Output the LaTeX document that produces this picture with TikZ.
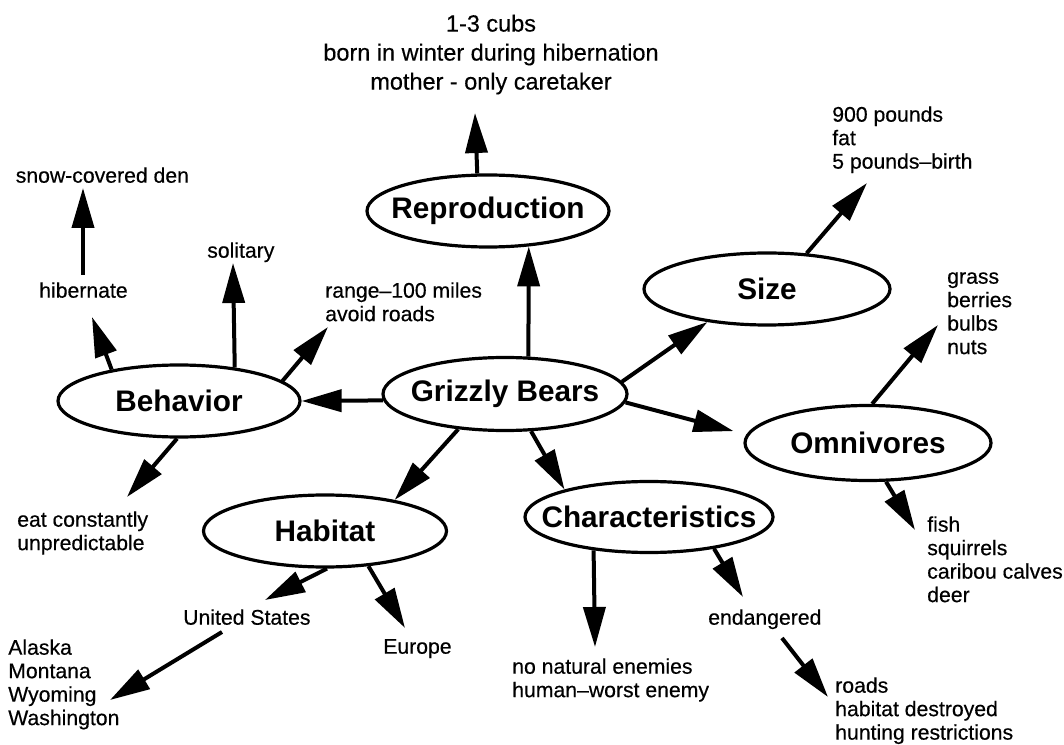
\documentclass[tikz,border=0pt]{standalone}
\usepackage{fontspec}
\setmainfont{Liberation Sans}
\newfontfamily\labelfont{Liberation Sans}[FakeBold=0.4]
\usetikzlibrary{arrows.meta,shapes.geometric,calc}
\begin{document}
\begin{tikzpicture}[x=0.75pt,y=-0.75pt,
  topic/.style={ellipse, draw, line width=2.4pt, inner sep=0pt,
    font=\fontsize{22.3}{26}\selectfont\bfseries},
  txt/.style={anchor=north west, align=left, inner sep=0pt,
    font=\labelfont\fontsize{15.9}{17.6}\selectfont},
  toptxt/.style={anchor=north, align=center, inner sep=0pt,
    font=\labelfont\fontsize{17.6}{21.75}\selectfont},
  arr/.style={line width=3pt, -{Triangle[length=30pt,width=16.5pt]}}]
\useasboundingbox (0,0) rectangle (1064,745);

% topic ellipses
\node[topic, minimum width=181.5pt, minimum height=54pt]    (rep)  at (488,211) {\makebox[0pt]{Reproduction}};
\node[topic, minimum width=184.5pt, minimum height=54pt]    (size) at (767,289) {\makebox[0pt]{Size}};
\node[topic, minimum width=183pt,   minimum height=54.75pt] (griz) at (505,394) {\makebox[0pt]{Grizzly Bears}};
\node[topic, minimum width=181.5pt, minimum height=54pt]    (beh)  at (179,401) {\makebox[0pt]{Behavior}};
\node[topic, minimum width=182.25pt,minimum height=54pt]    (hab)  at (325,531) {\makebox[0pt]{Habitat}};
\node[topic, minimum width=186pt,   minimum height=53.25pt] (char) at (649,517) {\makebox[0pt]{Characteristics}};
\node[topic, minimum width=184.5pt, minimum height=56.25pt] (omni) at (868,443) {\makebox[0pt]{Omnivores}};

% detail texts
\node[txt] (snow)   at (15.5,166) {\strut snow-covered den};
\node[txt] (hib)    at (39,281)   {\strut hibernate};
\node[txt] (sol)    at (207,241)  {\strut solitary};
\node[txt] (range)  at (325,281)  {\strut range–100 miles\\avoid roads};
\node[toptxt] (cubs) at (491,11)  {\strut 1-3 cubs\\born in winter during hibernation\\mother - only caretaker};
\node[txt] (wt)     at (832,105)  {\strut 900 pounds\\fat\\5 pounds–birth};
\node[txt] (plants) at (947,267)  {\strut grass\\berries\\bulbs\\nuts};
\node[txt] (eat)    at (17,510)   {\strut eat constantly\\unpredictable};
\node[txt] (us)     at (183,608)  {\strut United States};
\node[txt] (eur)    at (383,637)  {\strut Europe};
\node[txt] (states) at (8,638)    {\strut Alaska\\Montana\\Wyoming\\Washington};
\node[txt] (enem)   at (512,657)  {\strut no natural enemies\\human–worst enemy};
\node[txt] (endg)   at (708,608)  {\strut endangered};
\node[txt] (threat) at (835,676)  {\strut roads\\habitat destroyed\\hunting restrictions};
\node[txt] (prey)   at (927,515)  {\strut fish\\squirrels\\caribou calves\\deer};

% connectors
\draw[arr] (griz.183) -- (beh.0);
\draw[arr] (griz.58) -- (rep.319);
\draw[arr] (rep.106) -- ($(cubs.north)+(-16,102)$);
\draw[arr] (griz.6) -- (size.209);
\draw[arr] (size.42) -- ($(wt.north west)+(35,78)$);
\draw[arr, shorten >=10pt] (griz.356) -- (omni.176);
\draw[arr] (omni.84) -- ($(plants.north west)+(-9,58)$);
\draw[arr] (omni.295) -- ($(prey.north west)+(-12,15)$);
\draw[arr] (griz.305) -- (char.162);
\draw[arr] (griz.217) -- (hab.24);
\draw[arr] (char.211) -- ($(enem.north west)+(83,-10)$);
\draw[arr] (char.334) -- ($(endg.north west)+(35,-11)$);
\draw[arr] ($(endg.north west)+(74,30)$) -- ($(threat.north west)+(-7,21)$);
\draw[arr] (hab.273) -- ($(us.north west)+(82,-8)$);
\draw[arr] (hab.321) -- ($(eur.north west)+(22,-9)$);
\draw[arr] ($(us.north west)+(39,24)$) -- ($(states.north west)+(102,62)$);
\draw[arr] (beh.267) -- ($(eat.north west)+(110,-13)$);
\draw[arr] (beh.155) -- ($(hib.north west)+(53,36)$);
\draw[arr] ($(hib.north west)+(44,-6)$) -- ($(snow.north west)+(67.5,22)$);
\draw[arr] (beh.31) -- ($(sol.north west)+(26,22)$);
\draw[arr] (beh.11) -- ($(range.north west)+(3,46)$);
\end{tikzpicture}
\end{document}
